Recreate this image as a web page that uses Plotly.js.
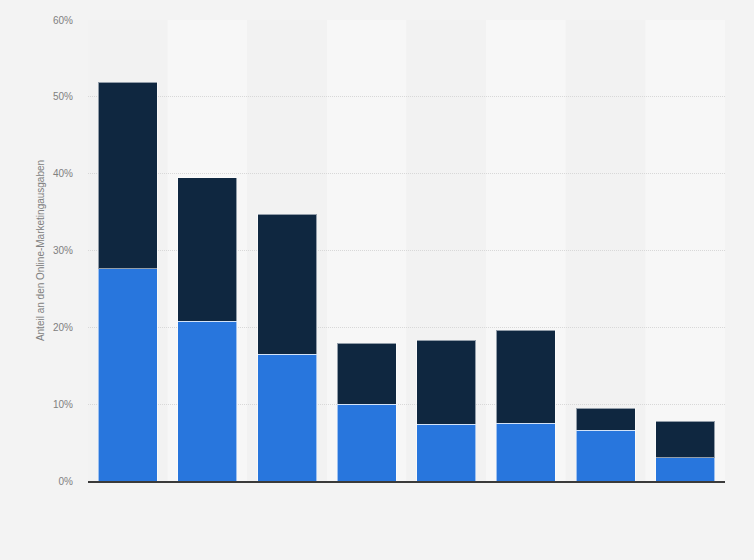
<!DOCTYPE html>
<html>
<head>
<meta charset="utf-8">
<script src="https://cdn.plot.ly/plotly-3.0.1.min.js"></script>
<style>
  html, body { margin: 0; padding: 0; background: #f3f3f3; }
  #chart { width: 754px; height: 560px; }
</style>
</head>
<body>
<div id="chart"></div>
<script>
const categories = ["1", "2", "3", "4", "5", "6", "7", "8"];
const seriesBlue = [27.6, 20.8, 16.5, 10.0, 7.4, 7.5, 6.6, 3.0];
const seriesDark = [24.3, 18.7, 18.2, 7.9, 10.9, 12.1, 2.9, 4.8];
const yTickValues = [0, 10, 20, 30, 40, 50, 60];
const yTickLabels = ["0%", "10%", "20%", "30%", "40%", "50%", "60%"];

const barLine = { color: "rgba(255,255,255,0.55)", width: 1 };

const traces = [
  {
    type: "bar",
    x: categories,
    y: seriesBlue,
    name: "Serie 1",
    marker: { color: "#2876dd", line: barLine },
    hoverinfo: "y"
  },
  {
    type: "bar",
    x: categories,
    y: seriesDark,
    name: "Serie 2",
    marker: { color: "#0f2740", line: barLine },
    hoverinfo: "y"
  }
];

const shapes = categories.map((c, i) => ({
  type: "rect",
  xref: "x",
  yref: "paper",
  x0: i - 0.5,
  x1: i + 0.5,
  y0: 0,
  y1: 1,
  fillcolor: i % 2 === 0 ? "#f2f2f2" : "#f7f7f7",
  line: { width: 0 },
  layer: "below"
}));

const layout = {
  width: 754,
  height: 560,
  paper_bgcolor: "#f3f3f3",
  plot_bgcolor: "rgba(0,0,0,0)",
  margin: { l: 88, r: 29, t: 20, b: 79 },
  barmode: "stack",
  bargap: 0.26,
  showlegend: false,
  font: { family: "Liberation Sans, Arial, sans-serif", color: "#666666", size: 10 },
  shapes: shapes,
  xaxis: {
    type: "category",
    range: [-0.5, 7.5],
    showticklabels: false,
    showgrid: false,
    zeroline: false,
    showline: true,
    linecolor: "#3a3a3a",
    linewidth: 1.5,
    ticks: "",
    fixedrange: true
  },
  yaxis: {
    range: [0, 60],
    tickvals: yTickValues,
    ticktext: yTickLabels,
    showgrid: true,
    gridcolor: "#d8d8d8",
    griddash: "1px,1px",
    gridwidth: 1,
    zeroline: false,
    showline: false,
    ticks: "",
    ticklabelstandoff: 14,
    tickfont: { size: 10, color: "#808080" },
    title: {
      text: "Anteil an den Online-Marketingausgaben",
      font: { size: 10, color: "#808080" },
      standoff: 6
    },
    fixedrange: true
  }
};

Plotly.newPlot("chart", traces, layout, { displayModeBar: false, staticPlot: true });
</script>
</body>
</html>
